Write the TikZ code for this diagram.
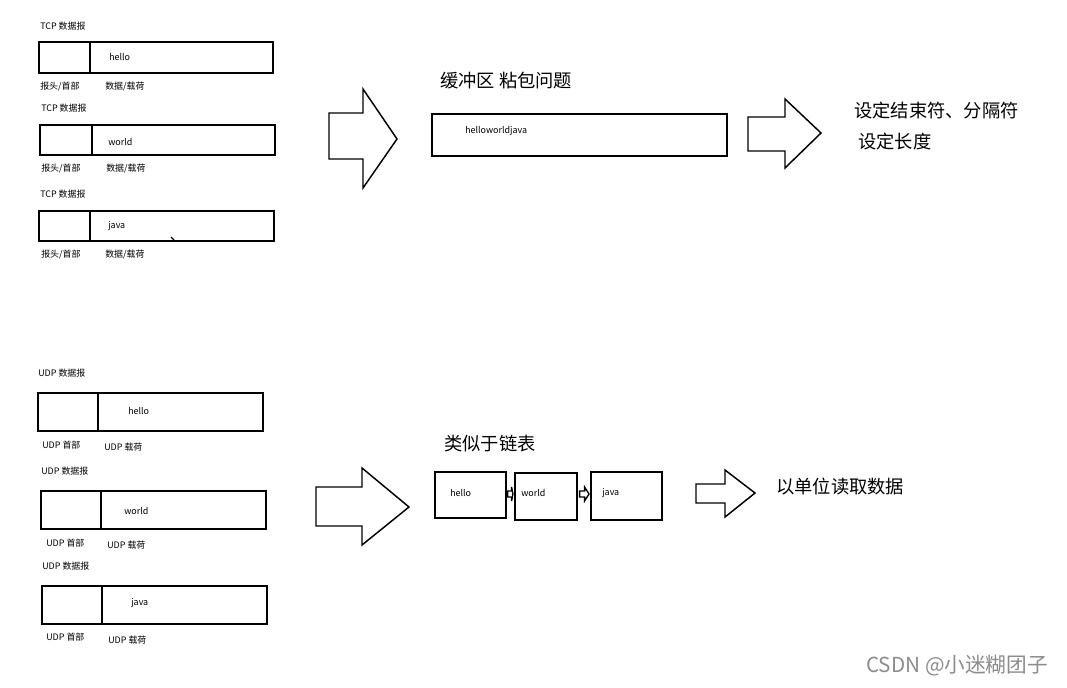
\documentclass[tikz,border=0pt]{standalone}
\usepackage{fontspec}
\setmainfont{Noto Sans CJK SC}
\usetikzlibrary{calc}
\tikzset{
  cell/.style={draw, line width=1.2pt, inner sep=0pt, anchor=north west},
  ucell/.style={draw, line width=1.6pt, inner sep=0pt, anchor=north west},
  small/.style={font=\fontsize{6.7pt}{7pt}\selectfont, anchor=west, inner sep=0pt},
  big/.style={font=\fontsize{13.7pt}{15pt}\selectfont, anchor=west, inner sep=0pt},
  blockarrow/.style={draw, line width=1.1pt, line join=miter, fill=white},
}
\newcommand{\pxcell}[6][cell]{%
  \node[#1, minimum width={(#5-#3)*0.75pt}, minimum height={(#6-#4)*0.75pt}] (#2) at (#3,#4) {};}
\begin{document}
\begin{tikzpicture}[x=0.75pt,y=-0.75pt]
\useasboundingbox (0,0) rectangle (1067,688);
\fill[white] (0,0) rectangle (1067,688);

% ---------- TCP datagrams ----------
\node[small] (tl1) at (40,26) {TCP 数据报};
\pxcell{th1}{38}{41}{89}{72}
\pxcell{tp1}{89}{41}{272}{72}
\node[small] (tt1) at (109,57) {hello};
\node[small] (th1l) at (40,87) {报头/首部};
\node[small] (tp1l) at (105,87) {数据/载荷};

\node[small] (tl2) at (41,108) {TCP 数据报};
\pxcell{th2}{39}{124}{91}{154}
\pxcell{tp2}{91}{124}{274}{154}
\node[small] (tt2) at (108,142) {world};
\node[small] (th2l) at (41,169) {报头/首部};
\node[small] (tp2l) at (106,169) {数据/载荷};

\node[small] (tl3) at (40,194) {TCP 数据报};
\pxcell{th3}{38}{210}{89}{240}
\pxcell{tp3}{89}{210}{273}{240}
\node[small] (tt3) at (108,226) {java};
\node[small] (th3l) at (41,255) {报头/首部};
\node[small] (tp3l) at (105,255) {数据/载荷};
\draw[line width=0.8pt] (171,237) -- (174,240);

% ---------- big arrow 1 ----------
\draw[blockarrow] (329,113) -- (363,113) -- (363,89) -- (397,139) -- (363,188) -- (363,159) -- (329,159) -- cycle;

\node[big] (buf) at (440,81) {缓冲区 粘包问题};
\pxcell{bufbox}{431}{113}{726}{155}
\node[small] (buft) at (465,131) {helloworldjava};

% ---------- arrow 2 ----------
\draw[blockarrow] (748,117) -- (785,117) -- (785,99) -- (821,133) -- (785,168) -- (785,151) -- (748,151) -- cycle;
\node[big] (sol1) at (854,111) {设定结束符、分隔符};
\node[big] (sol2) at (858,142) {设定长度};

% ---------- UDP datagrams ----------
\node[small] (ul1) at (38,373) {UDP 数据报};
\pxcell[ucell]{uh1}{37}{392}{97}{430}
\pxcell[ucell]{up1}{97}{392}{262}{430}
\node[small] (ut1) at (128,411) {hello};
\node[small] (uh1l) at (42,445) {UDP 首部};
\node[small] (up1l) at (104,447) {UDP 载荷};

\node[small] (ul2) at (41,471) {UDP 数据报};
\pxcell[ucell]{uh2}{40}{490}{100}{528}
\pxcell[ucell]{up2}{100}{490}{265}{528}
\node[small] (ut2) at (124,511) {world};
\node[small] (uh2l) at (46,543) {UDP 首部};
\node[small] (up2l) at (107,545) {UDP 载荷};

\node[small] (ul3) at (42,566) {UDP 数据报};
\pxcell[ucell]{uh3}{41}{585}{101}{623}
\pxcell[ucell]{up3}{101}{585}{266}{623}
\node[small] (ut3) at (131,603) {java};
\node[small] (uh3l) at (46,637) {UDP 首部};
\node[small] (up3l) at (108,640) {UDP 载荷};

% ---------- big arrow 3 ----------
\draw[blockarrow] (316,487) -- (362,487) -- (362,468) -- (409,507) -- (362,545) -- (362,526) -- (316,526) -- cycle;

\node[big] (ll) at (444,444) {类似于链表};
\pxcell{n1}{434}{471}{505}{517}
\pxcell{n2}{514}{472}{576}{519}
\pxcell{n3}{590}{471}{661}{519}
\node[small] (n1t) at (450,493) {hello};
\node[small] (n2t) at (521,493) {world};
\node[small] (n3t) at (602,493) {java};

% small link arrows
\coordinate (a1) at (n1.east |- 0,494);
\coordinate (a2) at (n3.west |- 0,494);
\draw[blockarrow, line width=1pt] ($(a1)+(1,-3)$) -- ++(4,0) -- ++(0,-4) -- ($(n2.west |- a1)+(-1,0)$) -- ($(a1)+(5,7)$) -- ++(0,-4) -- ++(-4,0) -- cycle;
\draw[blockarrow, line width=1pt] ($(n2.east |- a2)+(2,-3)$) -- ++(5,0) -- ++(0,-4) -- ($(a2)+(-1,0)$) -- ($(n2.east |- a2)+(7,7)$) -- ++(0,-4) -- ++(-5,0) -- cycle;

% ---------- arrow 4 ----------
\draw[blockarrow] (696,484) -- (725,484) -- (725,470) -- (755,493) -- (725,517) -- (725,503) -- (696,503) -- cycle;
\node[big] (read) at (776,487) {以单位读取数据};

% watermark
\node[anchor=west, inner sep=0pt, text=black!45, font=\fontsize{15.5pt}{17pt}\selectfont] (wm) at (866,666) {CSDN @小迷糊团子};
\end{tikzpicture}
\end{document}
